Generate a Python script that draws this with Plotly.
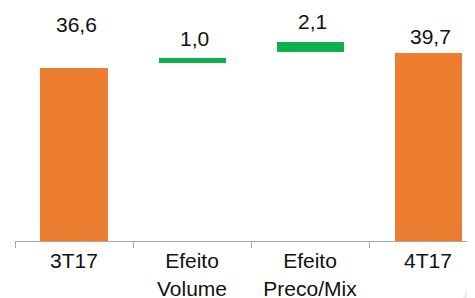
import plotly.graph_objects as go

categories = ["3T17", "Efeito Volume", "Efeito Preco/Mix", "4T17"]
tick_labels = ["3T17", "Efeito<br>Volume", "Efeito<br>Preco/Mix", "4T17"]
values = [36.6, 1.0, 2.1, 39.7]
bases = [0, 37.7, 39.9, 0]
value_labels = ["36,6", "1,0", "2,1", "39,7"]

ORANGE = "#ED7D31"
GREEN = "#0EB04C"
colors = [ORANGE, GREEN, GREEN, ORANGE]
FONT = "Liberation Sans, Arial, sans-serif"

# page body has an 8px margin: figure is sized to fill the remaining window
W, H = 467, 290

fig = go.Figure(
    go.Bar(
        x=categories,
        y=values,
        base=bases,
        marker=dict(color=colors, line=dict(width=0)),
        width=0.568,
        hoverinfo="skip",
    )
)

label_shifts = [43, 19, 21, 17]
for cat, v, b, t, s in zip(categories, values, bases, value_labels, label_shifts):
    fig.add_annotation(
        x=cat, y=v + b, text=t, showarrow=False, yanchor="middle",
        yshift=s, xshift=2, font=dict(family=FONT, size=21, color="#111111"),
    )

fig.update_layout(
    width=W, height=H,
    margin=dict(l=7, r=0, t=0, b=57),
    paper_bgcolor="white", plot_bgcolor="white",
    showlegend=False,
    bargap=0,
    xaxis=dict(
        type="category",
        tickvals=categories, ticktext=tick_labels,
        range=[-0.5, 3.398],
        automargin=False,
        showline=True, linecolor="#A6A6A6", linewidth=1,
        ticks="outside", tickson="boundaries", ticklen=6, tickcolor="#A6A6A6",
        ticklabelstandoff=1,
        tickfont=dict(family=FONT, size=21, color="#111111"),
        showgrid=False, zeroline=False, fixedrange=True,
    ),
    yaxis=dict(
        range=[0, 49.26], visible=False, showgrid=False, zeroline=False,
        automargin=False,
    ),
)

fig.add_shape(
    type="path", xref="paper", yref="paper",
    path="M 0.974 -0.245 L 1.0 -0.124 L 1.0 -0.245 Z",
    fillcolor="#EDEDED", line=dict(width=0), layer="above",
)

fig.write_html("out.html")
